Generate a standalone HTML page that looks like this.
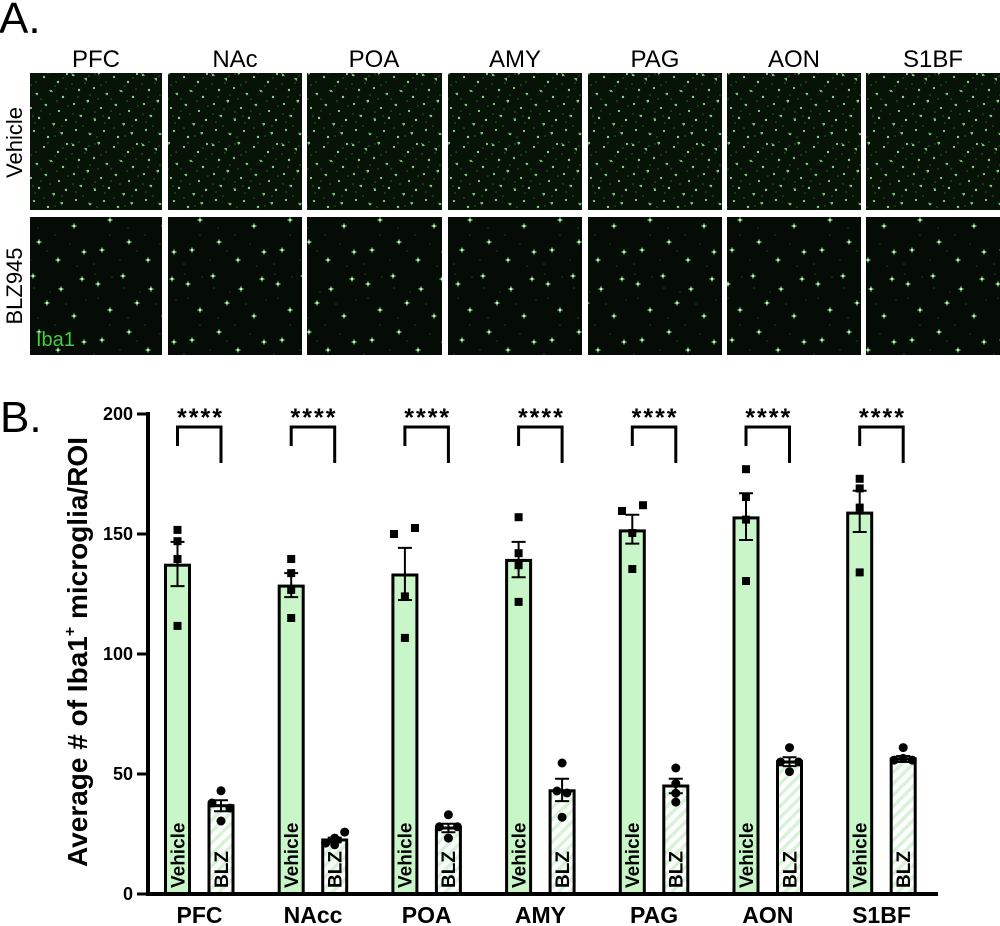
<!DOCTYPE html>
<html>
<head>
<meta charset="utf-8">
<style>
html,body{margin:0;padding:0;background:#fff;}
svg{display:block;}
</style>
</head>
<body>
<svg width="1000" height="926" viewBox="0 0 1000 926" xmlns="http://www.w3.org/2000/svg" font-family="Liberation Sans, Arial, sans-serif">
<defs>
  <pattern id="veh" width="70" height="70" patternUnits="userSpaceOnUse">
    <rect width="70" height="70" fill="#071307"/>
    <g fill="#2a642a">
      <circle cx="9" cy="2" r=".8"/><circle cx="25" cy="4" r=".8"/><circle cx="36" cy="12" r=".8"/>
      <circle cx="2" cy="14" r=".8"/><circle cx="15" cy="13" r=".8"/><circle cx="31" cy="15" r=".8"/>
      <circle cx="20" cy="25" r=".8"/><circle cx="8" cy="27" r=".8"/><circle cx="28" cy="29" r=".8"/>
      <circle cx="41" cy="29" r=".8"/><circle cx="14" cy="39" r=".8"/><circle cx="3" cy="44" r=".8"/>
      <circle cx="25" cy="42" r=".8"/><circle cx="35" cy="53" r=".8"/><circle cx="48" cy="3" r=".8"/>
      <circle cx="55" cy="16" r=".8"/><circle cx="66" cy="19" r=".8"/><circle cx="57" cy="31" r=".8"/>
      <circle cx="68" cy="36" r=".8"/><circle cx="50" cy="44" r=".8"/><circle cx="62" cy="56" r=".8"/>
      <circle cx="44" cy="58" r=".8"/><circle cx="13" cy="56" r=".8"/><circle cx="27" cy="67" r=".8"/>
      <circle cx="55" cy="66" r=".8"/><circle cx="41" cy="41" r=".8"/><circle cx="6" cy="52" r=".8"/>
      <circle cx="19" cy="6" r=".8"/><circle cx="63" cy="8" r=".8"/><circle cx="33" cy="46" r=".8"/>
    </g>
    <g fill="#a8f0a8" opacity=".85">
      <circle cx="3" cy="5" r="1.2"/><circle cx="16" cy="9" r="1.1"/><circle cx="29" cy="3" r="1.2"/>
      <circle cx="44" cy="7" r="1.1"/><circle cx="58" cy="12" r="1.2"/><circle cx="67" cy="4" r="1.1"/>
      <circle cx="9" cy="20" r="1.2"/><circle cx="24" cy="18" r="1.1"/><circle cx="37" cy="24" r="1.2"/>
      <circle cx="51" cy="21" r="1.1"/><circle cx="63" cy="27" r="1.2"/><circle cx="4" cy="34" r="1.1"/>
      <circle cx="18" cy="31" r="1.2"/><circle cx="31" cy="38" r="1.1"/><circle cx="46" cy="35" r="1.2"/>
      <circle cx="59" cy="41" r="1.1"/><circle cx="11" cy="46" r="1.2"/><circle cx="25" cy="50" r="1.1"/>
      <circle cx="39" cy="48" r="1.2"/><circle cx="54" cy="54" r="1.1"/><circle cx="66" cy="50" r="1.2"/>
      <circle cx="6" cy="60" r="1.1"/><circle cx="20" cy="64" r="1.2"/><circle cx="34" cy="61" r="1.1"/>
      <circle cx="48" cy="67" r="1.2"/><circle cx="62" cy="63" r="1.1"/>
    </g>
    <g stroke="#4da84d" stroke-width=".7">
      <path d="M1 3l4 3M14 8l3 3M27 2l2 3M35 23l3 2M49 20l4 2M16 30l2 3M44 34l3 2M23 49l3-1M52 53l2 3M18 63l4 1M60 62l2 3M9 45l2 2"/>
    </g>
  </pattern>
  <pattern id="blz" width="90" height="90" patternUnits="userSpaceOnUse">
    <rect width="90" height="90" fill="#050b05"/>
    <g fill="#1d451d">
      <circle cx="5" cy="4" r=".8"/><circle cx="22" cy="7" r=".8"/><circle cx="34" cy="18" r=".8"/>
      <circle cx="50" cy="22" r=".8"/><circle cx="8" cy="28" r=".8"/><circle cx="20" cy="55" r=".8"/>
      <circle cx="38" cy="48" r=".8"/><circle cx="55" cy="55" r=".8"/><circle cx="30" cy="80" r=".8"/>
      <circle cx="66" cy="34" r=".8"/><circle cx="70" cy="64" r=".8"/><circle cx="86" cy="30" r=".8"/>
      <circle cx="77" cy="86" r=".8"/><circle cx="47" cy="71" r=".8"/><circle cx="4" cy="84" r=".8"/>
    </g>
    <g stroke="#5cbf5c" stroke-width=".8">
      <path d="M5 14h6M8 11v6M30 6h6M33 3v6M58 19h6M61 16v6M79 9h6M82 6v6M17 40h6M20 37v6M44 33h6M47 30v6M71 46h6M74 43v6M9 70h6M12 67v6M36 62h6M39 59v6M55 80h6M58 77v6M81 72h6M84 69v6"/>
    </g>
    <g fill="#b6f5b6">
      <circle cx="8" cy="14" r="1.5"/><circle cx="33" cy="6" r="1.5"/><circle cx="61" cy="19" r="1.5"/>
      <circle cx="82" cy="9" r="1.5"/><circle cx="20" cy="40" r="1.5"/><circle cx="47" cy="33" r="1.5"/>
      <circle cx="74" cy="46" r="1.5"/><circle cx="12" cy="70" r="1.5"/><circle cx="39" cy="62" r="1.5"/>
      <circle cx="58" cy="80" r="1.5"/><circle cx="84" cy="72" r="1.5"/>
    </g>
  </pattern>
  <pattern id="hatch" width="8" height="8" patternUnits="userSpaceOnUse" patternTransform="rotate(45)">
    <rect width="8" height="8" fill="#ffffff"/>
    <rect width="3.5" height="8" fill="#d8f2d8"/>
  </pattern>
</defs>

<!-- Panel A -->
<text x="-1" y="33" font-size="44" fill="#000">A.</text>
<g font-size="24" text-anchor="middle" fill="#000">
  <text x="96" y="67">PFC</text>
  <text x="235" y="67">NAc</text>
  <text x="374" y="67">POA</text>
  <text x="515" y="67">AMY</text>
  <text x="655" y="67">PAG</text>
  <text x="794" y="67">AON</text>
  <text x="933" y="67">S1BF</text>
</g>
<text transform="translate(22,142.5) rotate(-90)" font-size="22" text-anchor="middle" fill="#000">Vehicle</text>
<text transform="translate(22,286) rotate(-90)" font-size="22" text-anchor="middle" fill="#000">BLZ945</text>

<g fill="url(#veh)">
  <rect x="30" y="73" width="132" height="137"/>
  <rect x="168" y="73" width="134" height="137"/>
  <rect x="307" y="73" width="135" height="137"/>
  <rect x="448" y="73" width="134" height="137"/>
  <rect x="588" y="73" width="134" height="137"/>
  <rect x="727" y="73" width="134" height="137"/>
  <rect x="866" y="73" width="134" height="137"/>
</g>
<g fill="url(#blz)">
  <rect x="30" y="217" width="132" height="138"/>
  <rect x="168" y="217" width="134" height="138"/>
  <rect x="307" y="217" width="135" height="138"/>
  <rect x="448" y="217" width="134" height="138"/>
  <rect x="588" y="217" width="134" height="138"/>
  <rect x="727" y="217" width="134" height="138"/>
  <rect x="866" y="217" width="134" height="138"/>
</g>
<text x="36" y="346" font-size="20" fill="#45cc45">Iba1</text>

<!-- Panel B -->
<text x="0" y="432" font-size="44" fill="#000">B.</text>

<text transform="translate(87,652) rotate(-90)" font-size="28" font-weight="bold" text-anchor="middle" fill="#000">Average # of Iba1<tspan font-size="16" dy="-12">+</tspan><tspan dy="12"> microglia/ROI</tspan></text>

<g font-size="18" font-weight="bold" text-anchor="end" fill="#000">
  <text x="133" y="420">200</text>
  <text x="133" y="540">150</text>
  <text x="133" y="660">100</text>
  <text x="133" y="780">50</text>
  <text x="133" y="900">0</text>
</g>

<!-- bars -->
<g stroke="#000" stroke-width="3">
  <rect x="165.5" y="565.2" width="24" height="328.8" fill="#c8f6c8"/>
  <rect x="209" y="805.7" width="24" height="88.3" fill="url(#hatch)"/>
  <rect x="279.2" y="586.1" width="24" height="307.9" fill="#c8f6c8"/>
  <rect x="322.7" y="840" width="24" height="54" fill="url(#hatch)"/>
  <rect x="392.9" y="575" width="24" height="319" fill="#c8f6c8"/>
  <rect x="436.4" y="828" width="24" height="66" fill="url(#hatch)"/>
  <rect x="506.6" y="560.4" width="24" height="333.6" fill="#c8f6c8"/>
  <rect x="550.1" y="790.8" width="24" height="103.2" fill="url(#hatch)"/>
  <rect x="620.3" y="530.9" width="24" height="363.1" fill="#c8f6c8"/>
  <rect x="663.8" y="786" width="24" height="108" fill="url(#hatch)"/>
  <rect x="734" y="517.9" width="24" height="376.1" fill="#c8f6c8"/>
  <rect x="777.5" y="762" width="24" height="132" fill="url(#hatch)"/>
  <rect x="847.7" y="513.1" width="24" height="380.9" fill="#c8f6c8"/>
  <rect x="891.2" y="758.9" width="24" height="135.1" fill="url(#hatch)"/>
</g>

<!-- in-bar labels -->
<g font-size="19" font-weight="bold" fill="#000">
  <text transform="translate(184.3,888) rotate(-90)">Vehicle</text>
  <text transform="translate(227.8,888) rotate(-90)">BLZ</text>
  <text transform="translate(298,888) rotate(-90)">Vehicle</text>
  <text transform="translate(341.5,888) rotate(-90)">BLZ</text>
  <text transform="translate(411.7,888) rotate(-90)">Vehicle</text>
  <text transform="translate(455.2,888) rotate(-90)">BLZ</text>
  <text transform="translate(525.4,888) rotate(-90)">Vehicle</text>
  <text transform="translate(568.9,888) rotate(-90)">BLZ</text>
  <text transform="translate(639.1,888) rotate(-90)">Vehicle</text>
  <text transform="translate(682.6,888) rotate(-90)">BLZ</text>
  <text transform="translate(752.8,888) rotate(-90)">Vehicle</text>
  <text transform="translate(796.3,888) rotate(-90)">BLZ</text>
  <text transform="translate(866.5,888) rotate(-90)">Vehicle</text>
  <text transform="translate(910,888) rotate(-90)">BLZ</text>
</g>

<!-- error bars -->
<g stroke="#000" stroke-width="2" fill="none">
  <path d="M177.5 541.9V586.1M170.5 541.9H184.5M170.5 586.1H184.5"/>
  <path d="M221 800.2V811.2M214 800.2H228M214 811.2H228"/>
  <path d="M291.2 573.1V597.1M284.2 573.1H298.2M284.2 597.1H298.2"/>
  <path d="M334.7 837.6V842.4M327.7 837.6H341.7M327.7 842.4H341.7"/>
  <path d="M404.9 547.9V600M397.9 547.9H411.9M397.9 600H411.9"/>
  <path d="M448.4 823.7V832.3M441.4 823.7H455.4M441.4 832.3H455.4"/>
  <path d="M518.6 541.9V577.2M511.6 541.9H525.6M511.6 577.2H525.6"/>
  <path d="M562.1 778.8V801.1M555.1 778.8H569.1M555.1 801.1H569.1"/>
  <path d="M632.3 514.8V543.6M625.3 514.8H639.3M625.3 543.6H639.3"/>
  <path d="M675.8 778.8V793.2M668.8 778.8H682.8M668.8 793.2H682.8"/>
  <path d="M746 493.2V540M739 493.2H753M739 540H753"/>
  <path d="M789.5 757.2V766.1M782.5 757.2H796.5M782.5 766.1H796.5"/>
  <path d="M859.7 490.8V532M852.7 490.8H866.7M852.7 532H866.7"/>
  <path d="M903.2 756V762M896.2 756H910.2M896.2 762H910.2"/>
</g>

<!-- vehicle points (squares) -->
<g fill="#000">
  <rect x="173.5" y="525.9" width="8" height="8"/><rect x="173.5" y="537.2" width="8" height="8"/>
  <rect x="173.5" y="555" width="8" height="8"/><rect x="173.5" y="621.9" width="8" height="8"/>
  <rect x="287.2" y="555" width="8" height="8"/><rect x="287.2" y="569.1" width="8" height="8"/>
  <rect x="287.2" y="585.9" width="8" height="8"/><rect x="287.2" y="614" width="8" height="8"/>
  <rect x="390" y="530" width="8" height="8"/><rect x="411" y="524" width="8" height="8"/>
  <rect x="400.9" y="592.4" width="8" height="8"/><rect x="400.9" y="633.9" width="8" height="8"/>
  <rect x="514.6" y="513.2" width="8" height="8"/><rect x="514.6" y="549.2" width="8" height="8"/>
  <rect x="514.6" y="561.2" width="8" height="8"/><rect x="514.6" y="597.9" width="8" height="8"/>
  <rect x="618" y="507" width="8" height="8"/><rect x="639" y="501.2" width="8" height="8"/>
  <rect x="628.3" y="529" width="8" height="8"/><rect x="628.3" y="565" width="8" height="8"/>
  <rect x="742" y="465.2" width="8" height="8"/><rect x="742" y="493" width="8" height="8"/>
  <rect x="742" y="515.6" width="8" height="8"/><rect x="742" y="577" width="8" height="8"/>
  <rect x="855.7" y="474.8" width="8" height="8"/><rect x="855.7" y="484.4" width="8" height="8"/>
  <rect x="855.7" y="503.6" width="8" height="8"/><rect x="855.7" y="568.4" width="8" height="8"/>
</g>
<!-- BLZ points (circles) -->
<g fill="#000">
  <circle cx="221" cy="790.8" r="4.5"/><circle cx="212" cy="803" r="4.5"/>
  <circle cx="230" cy="808.1" r="4.5"/><circle cx="221" cy="821" r="4.5"/>
  <circle cx="344.7" cy="832.1" r="4.5"/><circle cx="325.7" cy="843.1" r="4.5"/>
  <circle cx="334.7" cy="838.1" r="4.5"/><circle cx="334.7" cy="844.8" r="4.5"/>
  <circle cx="448.4" cy="814.8" r="4.5"/><circle cx="439.4" cy="826.8" r="4.5"/>
  <circle cx="457.4" cy="826.8" r="4.5"/><circle cx="448.4" cy="838.1" r="4.5"/>
  <circle cx="562.1" cy="763" r="4.5"/><circle cx="557" cy="791" r="4.5"/>
  <circle cx="567" cy="793" r="4.5"/><circle cx="562.1" cy="817.2" r="4.5"/>
  <circle cx="675.8" cy="768" r="4.5"/><circle cx="675.8" cy="783.6" r="4.5"/>
  <circle cx="675.8" cy="793.2" r="4.5"/><circle cx="675.8" cy="802.1" r="4.5"/>
  <circle cx="789.5" cy="747.6" r="4.5"/><circle cx="780.5" cy="762" r="4.5"/>
  <circle cx="798.5" cy="762" r="4.5"/><circle cx="789.5" cy="771.6" r="4.5"/>
  <circle cx="903.2" cy="747.6" r="4.5"/><circle cx="894.2" cy="760.1" r="4.5"/>
  <circle cx="912.2" cy="760.1" r="4.5"/><circle cx="903.2" cy="758.4" r="4.5"/>
</g>

<!-- axes -->
<g stroke="#000" fill="none">
  <path d="M148 412V896" stroke-width="4"/>
  <path d="M146 894H938" stroke-width="4"/>
  <path d="M137 414H148M137 534H148M137 654H148M137 774H148M137 894H148" stroke-width="3"/>
</g>

<!-- significance brackets -->
<g stroke="#000" stroke-width="3" fill="none">
  <path d="M177.5 446V427H221V463"/>
  <path d="M291.2 446V427H334.7V463"/>
  <path d="M404.9 446V427H448.4V463"/>
  <path d="M518.6 446V427H562.1V463"/>
  <path d="M632.3 446V427H675.8V463"/>
  <path d="M746 446V427H789.5V463"/>
  <path d="M859.7 446V427H903.2V463"/>
</g>
<g font-size="25" font-weight="bold" text-anchor="middle" fill="#000" letter-spacing="2">
  <text x="200.5" y="426">****</text>
  <text x="314" y="426">****</text>
  <text x="427.7" y="426">****</text>
  <text x="541.4" y="426">****</text>
  <text x="655.1" y="426">****</text>
  <text x="768.8" y="426">****</text>
  <text x="882.5" y="426">****</text>
</g>

<!-- category labels -->
<g font-size="23" font-weight="bold" text-anchor="middle" fill="#000">
  <text x="199.5" y="923">PFC</text>
  <text x="313" y="923">NAcc</text>
  <text x="426.7" y="923">POA</text>
  <text x="540.4" y="923">AMY</text>
  <text x="654.1" y="923">PAG</text>
  <text x="767.8" y="923">AON</text>
  <text x="881.5" y="923">S1BF</text>
</g>
</svg>
</body>
</html>
